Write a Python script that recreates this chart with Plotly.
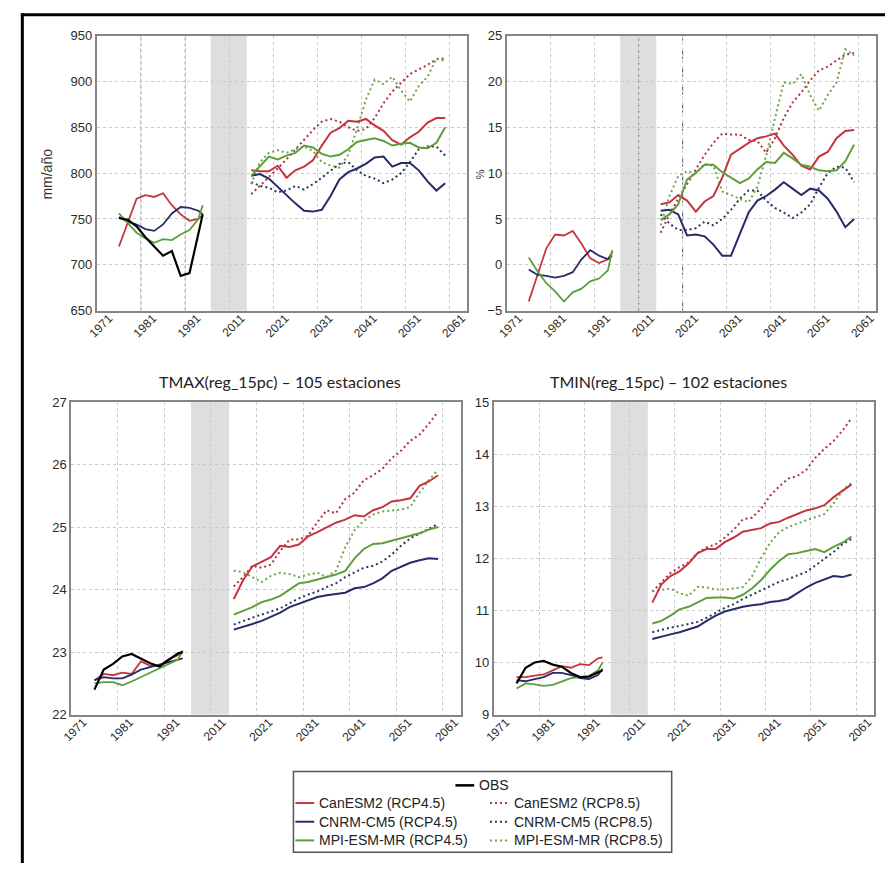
import plotly.graph_objects as go

# precipitation / temperature projections, 4 panels + shared legend

W, H = 886, 871

hist_years = [1976, 1978, 1980, 1982, 1984, 1986, 1988, 1990, 1992, 1994, 1995]
fut_years = [2016, 2018, 2020, 2022, 2024, 2026, 2028, 2030, 2032, 2034, 2036, 2038,
             2040, 2042, 2044, 2046, 2048, 2050, 2052, 2054, 2056, 2058, 2060]
tick_years = [1971, 1981, 1991, 2011, 2021, 2031, 2041, 2051, 2061]

# --- precipitation, mm/año
pr_obs_hist = [751, 749, 742, 730, 720, 710, 715, 688, 691, 735, 755]
pr_can_hist = [720, 745, 772, 776, 774, 778, 765, 755, 748, 750, 754]
pr_cnrm_hist = [752, 747, 744, 739, 737, 744, 756, 763, 762, 759, 755]
pr_mpi_hist = [756, 745, 735, 729, 724, 728, 727, 733, 738, 750, 765]
pr_can45 = [803, 802, 802, 808, 795, 803, 807, 814, 830, 844, 849, 857, 856, 859, 852, 846, 836, 831, 839, 845, 855, 860, 860]
pr_can85 = [777, 786, 796, 805, 815, 826, 836, 847, 856, 859, 856, 850, 846, 848, 860, 876, 889, 899, 908, 913, 918, 924, 925]
pr_cnrm45 = [797, 799, 794, 785, 775, 767, 759, 758, 760, 775, 793, 801, 805, 810, 817, 818, 807, 811, 811, 803, 791, 781, 789]
pr_cnrm85 = [790, 786, 784, 779, 781, 786, 782, 788, 795, 803, 810, 812, 803, 797, 794, 789, 793, 800, 812, 826, 829, 829, 819]
pr_mpi45 = [797, 808, 818, 815, 819, 822, 830, 828, 821, 818, 820, 826, 834, 836, 838, 835, 830, 832, 833, 828, 827, 833, 850]
pr_mpi85 = [788, 812, 822, 825, 822, 826, 829, 824, 812, 808, 806, 820, 848, 880, 902, 897, 905, 890, 878, 895, 905, 925, 922]

# --- precipitation change, %
pct_can_hist = [-4.0, -1.0, 1.8, 3.3, 3.2, 3.7, 2.3, 0.7, 0.2, 0.6, 1.4]
pct_cnrm_hist = [-0.5, -1.1, -1.2, -1.4, -1.2, -0.8, 0.6, 1.6, 1.0, 0.6, 1.0]
pct_mpi_hist = [0.8, -0.7, -2.0, -2.9, -4.0, -3.0, -2.6, -1.8, -1.5, -0.6, 1.6]
pct_can45 = [6.6, 6.8, 7.6, 7.0, 5.8, 6.9, 7.5, 9.5, 12.0, 12.7, 13.3, 13.8, 14.0, 14.3, 13.0, 12.0, 10.8, 10.4, 11.8, 12.3, 13.8, 14.6, 14.7]
pct_can85 = [3.5, 5.5, 7.2, 8.8, 10.5, 12.0, 13.3, 14.3, 14.2, 14.2, 13.6, 13.5, 12.2, 13.8, 16.0, 17.7, 18.8, 20.1, 21.2, 21.6, 22.3, 22.9, 23.1]
pct_cnrm45 = [5.9, 6.0, 5.5, 3.2, 3.3, 3.1, 2.2, 1.0, 1.0, 3.3, 5.7, 7.0, 7.5, 8.2, 9.0, 8.3, 7.6, 8.3, 8.1, 7.2, 5.8, 4.1, 5.0]
pct_cnrm85 = [5.5, 4.5, 3.8, 3.8, 4.0, 4.7, 4.3, 5.0, 6.0, 7.2, 8.1, 8.1, 7.0, 6.2, 5.7, 5.1, 5.7, 6.6, 8.4, 10.0, 10.7, 10.6, 9.0]
pct_mpi45 = [4.9, 5.5, 6.6, 9.3, 10.0, 10.9, 10.9, 10.1, 9.5, 8.9, 9.4, 10.4, 11.2, 11.1, 12.2, 11.6, 10.9, 10.7, 10.3, 10.2, 10.3, 11.3, 13.1]
pct_mpi85 = [4.3, 7.5, 9.7, 10.2, 10.0, 11.0, 10.8, 8.0, 7.6, 7.2, 6.8, 8.5, 11.9, 16.0, 19.9, 19.7, 20.8, 18.5, 16.8, 18.5, 19.9, 23.5, 22.8]

# --- TMAX
tmax_obs_hist = [22.40, 22.72, 22.81, 22.93, 22.97, 22.90, 22.82, 22.77, 22.88, 22.98, 23.0]
tmax_can_hist = [22.55, 22.65, 22.63, 22.67, 22.65, 22.85, 22.78, 22.78, 22.89, 22.95, 23.02]
tmax_cnrm_hist = [22.55, 22.60, 22.58, 22.58, 22.64, 22.72, 22.76, 22.80, 22.85, 22.88, 22.90]
tmax_mpi_hist = [22.50, 22.52, 22.52, 22.47, 22.53, 22.60, 22.68, 22.75, 22.82, 22.88, 23.02]
tmax_can45 = [23.85, 24.15, 24.37, 24.44, 24.52, 24.70, 24.68, 24.72, 24.85, 24.92, 25.0, 25.07, 25.12, 25.19, 25.17, 25.27, 25.32, 25.41, 25.43, 25.46, 25.66, 25.73, 25.83]
tmax_can85 = [24.05, 24.2, 24.38, 24.35, 24.4, 24.62, 24.8, 24.8, 24.86, 25.08, 25.27, 25.22, 25.45, 25.55, 25.75, 25.83, 25.93, 26.1, 26.22, 26.38, 26.48, 26.65, 26.85]
tmax_cnrm45 = [23.36, 23.4, 23.45, 23.5, 23.56, 23.63, 23.72, 23.77, 23.83, 23.88, 23.91, 23.93, 23.95, 24.02, 24.04, 24.1, 24.18, 24.3, 24.37, 24.43, 24.47, 24.5, 24.49]
tmax_cnrm85 = [23.44, 23.5, 23.55, 23.6, 23.65, 23.7, 23.78, 23.86, 23.92, 23.97, 24.04, 24.1, 24.2, 24.28, 24.35, 24.38, 24.45, 24.56, 24.7, 24.82, 24.9, 24.98, 25.05]
tmax_mpi45 = [23.6, 23.66, 23.72, 23.8, 23.84, 23.9, 24.0, 24.1, 24.12, 24.16, 24.2, 24.24, 24.3, 24.5, 24.65, 24.73, 24.74, 24.78, 24.82, 24.86, 24.9, 24.96, 25.0]
tmax_mpi85 = [24.3, 24.28, 24.2, 24.12, 24.22, 24.27, 24.25, 24.2, 24.24, 24.27, 24.2, 24.3, 24.68, 24.95, 25.1, 25.2, 25.25, 25.27, 25.28, 25.32, 25.55, 25.75, 25.92]

# --- TMIN
tmin_obs_hist = [9.6, 9.9, 10.0, 10.03, 9.96, 9.92, 9.8, 9.72, 9.73, 9.8, 9.85]
tmin_can_hist = [9.72, 9.72, 9.75, 9.77, 9.85, 9.93, 9.9, 9.97, 9.95, 10.08, 10.1]
tmin_cnrm_hist = [9.66, 9.64, 9.68, 9.72, 9.8, 9.8, 9.76, 9.7, 9.68, 9.76, 9.88]
tmin_mpi_hist = [9.5, 9.6, 9.58, 9.55, 9.57, 9.64, 9.7, 9.72, 9.74, 9.85, 10.0]
tmin_can45 = [11.15, 11.5, 11.66, 11.75, 11.9, 12.1, 12.18, 12.18, 12.31, 12.4, 12.51, 12.55, 12.58, 12.67, 12.7, 12.78, 12.85, 12.92, 12.96, 13.02, 13.17, 13.3, 13.42]
tmin_can85 = [11.36, 11.55, 11.72, 11.83, 11.92, 12.1, 12.21, 12.27, 12.4, 12.55, 12.75, 12.78, 12.95, 13.2, 13.38, 13.53, 13.58, 13.7, 13.93, 14.1, 14.25, 14.45, 14.69]
tmin_cnrm45 = [10.45, 10.5, 10.54, 10.58, 10.64, 10.69, 10.8, 10.9, 10.98, 11.03, 11.07, 11.1, 11.12, 11.16, 11.18, 11.22, 11.33, 11.44, 11.53, 11.6, 11.66, 11.64, 11.69]
tmin_cnrm85 = [10.58, 10.63, 10.67, 10.7, 10.74, 10.78, 10.86, 10.96, 11.05, 11.12, 11.22, 11.3, 11.38, 11.47, 11.55, 11.6, 11.67, 11.74, 11.86, 11.99, 12.12, 12.27, 12.37]
tmin_mpi45 = [10.75, 10.8, 10.9, 11.02, 11.07, 11.16, 11.24, 11.25, 11.25, 11.23, 11.3, 11.42, 11.58, 11.78, 11.95, 12.08, 12.1, 12.14, 12.18, 12.12, 12.22, 12.3, 12.42]
tmin_mpi85 = [11.37, 11.4, 11.42, 11.33, 11.28, 11.45, 11.44, 11.4, 11.4, 11.42, 11.45, 11.65, 12.0, 12.3, 12.5, 12.6, 12.67, 12.73, 12.79, 12.85, 13.05, 13.3, 13.45]

RED, NAVY, GREEN = '#c5343f', '#252c68', '#5c9f3a'
RED85, NAVY85, GREEN85 = '#b03048', '#2e325e', '#6aa64c'
DOTS = '2px,3px'

# broken time axis: 2001-2010 left out
axis_years = [str(y) for y in list(range(1971, 2001)) + list(range(2011, 2066))]


def px_x(x):
    # pixel -> paper fraction
    return x / W


def px_y(y):
    return 1 - y / H


def xs(years):
    return [str(y) for y in years]


panels = [
    dict(box=(88, 463, 29, 309), yr=[650, 950], dt=50,
         hist=[(pr_can_hist, RED), (pr_cnrm_hist, NAVY), (pr_mpi_hist, GREEN), (pr_obs_hist, 'black')],
         fut=[(pr_can85, RED85, DOTS), (pr_cnrm85, NAVY85, DOTS), (pr_mpi85, GREEN85, DOTS),
              (pr_can45, RED, 'solid'), (pr_cnrm45, NAVY, 'solid'), (pr_mpi45, GREEN, 'solid')]),
    dict(box=(503, 877, 29, 309), yr=[-5, 25], dt=5,
         hist=[(pct_can_hist, RED), (pct_cnrm_hist, NAVY), (pct_mpi_hist, GREEN)],
         fut=[(pct_can85, RED85, DOTS), (pct_cnrm85, NAVY85, DOTS), (pct_mpi85, GREEN85, DOTS),
              (pct_can45, RED, 'solid'), (pct_cnrm45, NAVY, 'solid'), (pct_mpi45, GREEN, 'solid')]),
    dict(box=(62, 457, 402, 720), yr=[22, 27], dt=1,
         hist=[(tmax_can_hist, RED), (tmax_cnrm_hist, NAVY), (tmax_mpi_hist, GREEN), (tmax_obs_hist, 'black')],
         fut=[(tmax_can85, RED85, DOTS), (tmax_cnrm85, NAVY85, DOTS), (tmax_mpi85, GREEN85, DOTS),
              (tmax_can45, RED, 'solid'), (tmax_cnrm45, NAVY, 'solid'), (tmax_mpi45, GREEN, 'solid')]),
    dict(box=(490, 875, 402, 720), yr=[9, 15], dt=1,
         hist=[(tmin_can_hist, RED), (tmin_cnrm_hist, NAVY), (tmin_mpi_hist, GREEN), (tmin_obs_hist, 'black')],
         fut=[(tmin_can85, RED85, DOTS), (tmin_cnrm85, NAVY85, DOTS), (tmin_mpi85, GREEN85, DOTS),
              (tmin_can45, RED, 'solid'), (tmin_cnrm45, NAVY, 'solid'), (tmin_mpi45, GREEN, 'solid')]),
]

fig = go.Figure()
layout = dict(width=W, height=H, margin=dict(l=0, r=0, t=0, b=0),
              paper_bgcolor='white', plot_bgcolor='white', showlegend=False,
              font=dict(family='Liberation Sans, Arial', color='#333'))
shapes = []
annotations = []

tick_font = dict(family='Liberation Sans, Arial', size=13, color='#2b2b2b')

for i, p in enumerate(panels, start=1):
    xa = 'x' if i == 1 else f'x{i}'
    ya = 'y' if i == 1 else f'y{i}'
    x0, x1, y0, y1 = p['box']
    layout[f'xaxis{i}'] = dict(
        domain=[px_x(x0), px_x(x1)], anchor=ya, type='category',
        categoryorder='array', categoryarray=axis_years, range=[0, 84],
        tickmode='array', tickvals=xs(tick_years), tickangle=-45,
        ticklabelshift=12, ticklabelstandoff=-6,
        tickfont=dict(size=12, family='Liberation Sans, Arial', color='#2b2b2b'),
        showgrid=True, gridcolor='#cacaca', griddash='dot', gridwidth=1,
        showline=True, mirror=True, linecolor='#858585', linewidth=2, ticks='', zeroline=False)
    layout[f'yaxis{i}'] = dict(
        domain=[px_y(y1), px_y(y0)], anchor=xa, range=p['yr'], dtick=p['dt'],
        tickfont=tick_font, showgrid=True, gridcolor='#cacaca', griddash='dot', gridwidth=1,
        showline=True, mirror=True, linecolor='#858585', linewidth=2, ticks='', zeroline=False)

    # grey band over the gap between the two periods
    shapes.append(dict(type='rect', xref=xa, yref=f'{ya} domain', x0=25.8, x1=34.0, y0=0, y1=1,
                       fillcolor='#dedede', line=dict(width=0), layer='below'))

    for vals, color, dash in p['fut']:
        fig.add_trace(go.Scatter(x=xs(fut_years), y=vals, mode='lines', xaxis=xa, yaxis=ya,
                                 line=dict(color=color, width=2, dash=dash)))
    for vals, color in p['hist']:
        fig.add_trace(go.Scatter(x=xs(hist_years), y=vals, mode='lines', xaxis=xa, yaxis=ya,
                                 line=dict(color=color, width=2.2 if color == 'black' else 1.8)))

# darker guide lines seen in the top panels
for xa, ya, pos, col, dash in [('x', 'y', 10, '#9a9a9a', 'dot'), ('x', 'y', 20, '#9a9a9a', 'dot'),
                               ('x2', 'y2', 30, '#777', 'dot'), ('x2', 'y2', 40, '#555', 'dash')]:
    shapes.append(dict(type='line', xref=xa, yref=f'{ya} domain', x0=pos, x1=pos, y0=0, y1=1,
                       line=dict(color=col, width=1, dash=dash), layer='below'))

# outer frame
shapes.append(dict(type='line', xref='paper', yref='paper', x0=px_x(11), x1=1.0, y0=px_y(8), y1=px_y(8),
                   line=dict(color='black', width=3)))
shapes.append(dict(type='line', xref='paper', yref='paper', x0=px_x(12.5), x1=px_x(12.5), y0=px_y(6.5), y1=0,
                   line=dict(color='black', width=3)))

# axis titles
annotations.append(dict(text='mm/año', xref='paper', yref='paper', x=px_x(38), y=px_y(170),
                        xanchor='center', yanchor='middle',
                        textangle=-90, showarrow=False, font=dict(size=14, color='#333')))
annotations.append(dict(text='%', xref='paper', yref='paper', x=px_x(476), y=px_y(170),
                        xanchor='center', yanchor='middle',
                        textangle=-90, showarrow=False, font=dict(size=11, color='#333')))

# panel titles
for text, cx in [('TMAX(reg_15pc) – 105 estaciones', 273), ('TMIN(reg_15pc) – 102 estaciones', 667)]:
    annotations.append(dict(text=text, xref='paper', yref='paper', x=px_x(cx), y=px_y(381),
                            xanchor='center', yanchor='middle', showarrow=False,
                            font=dict(family='Lato, Open Sans', size=16, color='#222')))

# legend box
shapes.append(dict(type='rect', xref='paper', yref='paper', x0=px_x(287), x1=px_x(670),
                   y0=px_y(860), y1=px_y(778), line=dict(color='#555', width=1.5), fillcolor='white'))
leg_font = dict(family='Liberation Sans, Arial', size=14, color='#222')
legend_rows = [
    ('OBS', 'black', 'solid', 451, 792),
    ('CanESM2 (RCP4.5)', RED, 'solid', 289, 810),
    ('CNRM-CM5 (RCP4.5)', NAVY, 'solid', 289, 829),
    ('MPI-ESM-MR (RCP4.5)', GREEN, 'solid', 289, 848),
    ('CanESM2 (RCP8.5)', RED85, DOTS, 486, 810),
    ('CNRM-CM5 (RCP8.5)', NAVY85, DOTS, 486, 829),
    ('MPI-ESM-MR (RCP8.5)', GREEN85, DOTS, 486, 848),
]
for label, color, dash, lx, ly in legend_rows:
    shapes.append(dict(type='line', xref='paper', yref='paper', x0=px_x(lx), x1=px_x(lx + 19),
                       y0=px_y(ly), y1=px_y(ly),
                       line=dict(color=color, width=2.5 if label == 'OBS' else 2, dash=dash)))
    annotations.append(dict(text=label, xref='paper', yref='paper', x=px_x(lx + 22), y=px_y(ly),
                            xanchor='left', yanchor='middle', showarrow=False, font=leg_font))

layout['shapes'] = shapes
layout['annotations'] = annotations
fig.update_layout(**layout)

# page has a default body margin; drop it so the figure sits at the window corner
fig.write_html("out.html", config={'displayModeBar': False},
               post_script="document.body.style.margin='0';")
